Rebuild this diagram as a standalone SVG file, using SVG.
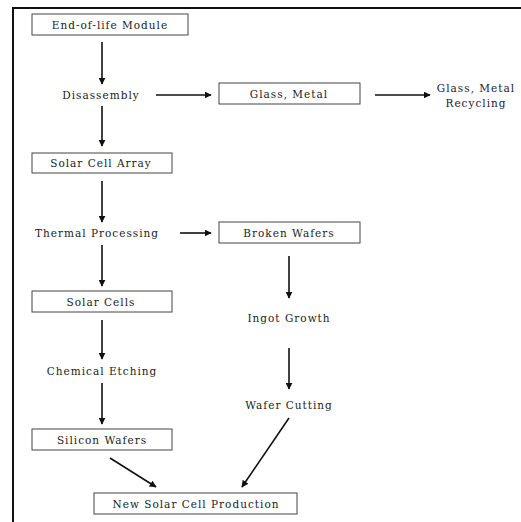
<svg xmlns="http://www.w3.org/2000/svg" width="521" height="522" viewBox="0 0 521 522">
<defs>
<marker id="ah" viewBox="0 0 10 10" refX="9" refY="5" markerWidth="7" markerHeight="7" markerUnits="userSpaceOnUse" orient="auto">
<path d="M0,0 L10,5 L0,10 Z" fill="#111"/>
</marker>
<style>
.box{fill:#fff;stroke:#444;stroke-width:1}
.t{font-family:"DejaVu Serif","Liberation Serif",serif;font-size:10.5px;letter-spacing:1px;fill:#222;text-anchor:middle}
.c{stroke:#111;stroke-width:1.6;fill:none;marker-end:url(#ah)}
.frame{stroke:#111;stroke-width:2;fill:none}
</style>
</defs>
<rect width="521" height="522" fill="#fff"/>
<path class="frame" d="M13,522 L13,8 L521,8"/>
<g id="connectors">
<line class="c" x1="102" y1="42" x2="102" y2="84"/>
<line class="c" x1="156" y1="95" x2="211" y2="95"/>
<line class="c" x1="375" y1="95" x2="430" y2="95"/>
<line class="c" x1="102" y1="106" x2="102" y2="146"/>
<line class="c" x1="102" y1="181" x2="102" y2="222"/>
<line class="c" x1="180" y1="233" x2="211" y2="233"/>
<line class="c" x1="102" y1="245" x2="102" y2="286"/>
<line class="c" x1="289" y1="256" x2="289" y2="298"/>
<line class="c" x1="102" y1="320" x2="102" y2="359"/>
<line class="c" x1="289" y1="348" x2="289" y2="389"/>
<line class="c" x1="102" y1="383" x2="102" y2="424"/>
<line class="c" x1="289" y1="418" x2="242" y2="487"/>
<line class="c" x1="110" y1="458" x2="156" y2="487"/>
</g>
<g id="end-of-life-module"><rect class="box" x="32" y="14" width="156" height="21"/><text class="t" x="110" y="29">End-of-life Module</text></g>
<g id="disassembly"><text class="t" x="101" y="99">Disassembly</text></g>
<g id="glass-metal"><rect class="box" x="219" y="83" width="141" height="21"/><text class="t" x="289" y="98">Glass, Metal</text></g>
<g id="glass-metal-recycling"><text class="t" x="476" y="92">Glass, Metal</text><text class="t" x="476" y="107">Recycling</text></g>
<g id="solar-cell-array"><rect class="box" x="32" y="153" width="140" height="20"/><text class="t" x="101" y="167">Solar Cell Array</text></g>
<g id="thermal-processing"><text class="t" x="97" y="237">Thermal Processing</text></g>
<g id="broken-wafers"><rect class="box" x="219" y="222" width="141" height="21"/><text class="t" x="289" y="237">Broken Wafers</text></g>
<g id="solar-cells"><rect class="box" x="32" y="291" width="140" height="21"/><text class="t" x="101" y="306">Solar Cells</text></g>
<g id="ingot-growth"><text class="t" x="289" y="322">Ingot Growth</text></g>
<g id="chemical-etching"><text class="t" x="102" y="375">Chemical Etching</text></g>
<g id="wafer-cutting"><text class="t" x="289" y="409">Wafer Cutting</text></g>
<g id="silicon-wafers"><rect class="box" x="32" y="429" width="140" height="21"/><text class="t" x="102" y="444">Silicon Wafers</text></g>
<g id="new-solar-cell-production"><rect class="box" x="94" y="493" width="203" height="21"/><text class="t" x="196" y="508">New Solar Cell Production</text></g>
</svg>
